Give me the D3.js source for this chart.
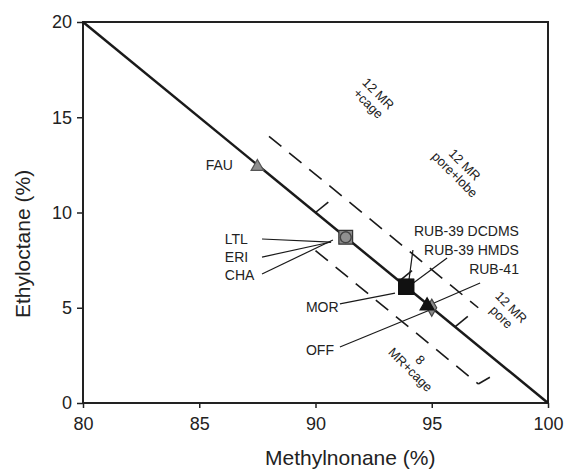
<!DOCTYPE html>
<html>
<head>
<meta charset="utf-8">
<script src="https://cdn.jsdelivr.net/npm/d3@7"></script>
<style>
  body { margin: 0; background: #fff; }
  svg text { font-family: "Liberation Sans", Arial, sans-serif; }
</style>
</head>
<body>
<div id="chart"></div>
<script>
// data
var names = ['FAU', 'LTL', 'ERI', 'CHA', 'MOR', 'RUB-39 DCDMS', 'RUB-39 HMDS', 'RUB-41', 'OFF'],
    methylnonane = [87.5, 91.3, 91.3, 91.3, 93.9, 93.9, 93.9, 94.8, 95.0],
    ethyloctane  = [12.4, 8.7, 8.7, 8.7, 6.1, 6.1, 6.1, 5.1, 5.0],
    xTicks = [80, 85, 90, 95, 100],
    yTicks = [0, 5, 10, 15, 20];

// marker styles (drawn in this order)
var markerStyle = {
  'OFF':          { shape: d3.symbolDiamond,  size: 85,  fill: '#8a8a8a', stroke: '#444' },
  'FAU':          { shape: d3.symbolTriangle, size: 68,  fill: '#8e8e8e', stroke: '#555' },
  'LTL':          { shape: d3.symbolSquare,   size: 190, fill: '#8a8a8a', stroke: '#333' },
  'ERI':          { shape: d3.symbolCircle,   size: 90,  fill: '#909090', stroke: '#444' },
  'CHA':          { shape: d3.symbolCircle,   size: 90,  fill: '#909090', stroke: '#444' },
  'MOR':          { shape: d3.symbolSquare,   size: 220, fill: '#111',    stroke: '#111' },
  'RUB-39 DCDMS': { shape: d3.symbolSquare,   size: 220, fill: '#111',    stroke: '#111' },
  'RUB-39 HMDS':  { shape: d3.symbolSquare,   size: 220, fill: '#111',    stroke: '#111' },
  'RUB-41':       { shape: d3.symbolTriangle, size: 85,  fill: '#111',    stroke: '#111' }
};
var drawOrder = ['OFF', 'FAU', 'LTL', 'ERI', 'CHA', 'MOR', 'RUB-39 DCDMS', 'RUB-39 HMDS', 'RUB-41'];

// label + leader layout, in data units
var labels = [
  { name: 'FAU',          at: [86.45, 12.5], anchor: 'end' },
  { name: 'LTL',          at: [86.1, 8.61],  anchor: 'start', from: [87.7, 8.61], to: [90.67, 8.45] },
  { name: 'ERI',          at: [86.1, 7.66],  anchor: 'start', from: [87.7, 7.66], to: [90.67, 8.45] },
  { name: 'CHA',          at: [86.1, 6.72],  anchor: 'start', from: [87.7, 6.77], to: [90.75, 8.56] },
  { name: 'MOR',          at: [89.59, 5.04], anchor: 'start', from: [91.05, 5.2], to: [93.42, 5.77] },
  { name: 'OFF',          at: [89.59, 2.8],  anchor: 'start', from: [91.05, 2.94], to: [94.92, 4.88] },
  { name: 'RUB-39 DCDMS', at: [98.75, 9.03], anchor: 'end', from: [94.19, 8.03], to: [94.02, 6.46] },
  { name: 'RUB-39 HMDS',  at: [98.75, 8.03], anchor: 'end', from: [95.66, 7.61], to: [94.15, 6.25] },
  { name: 'RUB-41',       at: [98.75, 7.03], anchor: 'end', from: [97.08, 6.3],  to: [94.8, 5.09] }
];

var zones = [
  { lines: ['12 MR', '+cage'],     at: [92.47, 15.96] },
  { lines: ['12 MR', 'pore+lobe'], at: [96.19, 12.23] },
  { lines: ['12 MR', 'pore'],      at: [98.19, 4.75] },
  { lines: ['8', 'MR+cage'],       at: [94.28, 1.99] }
];

var width = 564, height = 470;

var x = d3.scaleLinear().domain([80, 100]).range([83, 548]);
var y = d3.scaleLinear().domain([0, 20]).range([403, 22]);

var svg = d3.select('#chart').append('svg')
  .attr('width', width)
  .attr('height', height);

////////////////// axes //////////////////
var xAxis = svg.append('g')
  .attr('transform', 'translate(0,' + y(0) + ')')
  .call(d3.axisBottom(x).tickValues(xTicks).tickSize(5).tickPadding(9));
var yAxis = svg.append('g')
  .attr('transform', 'translate(' + x(80) + ',0)')
  .call(d3.axisLeft(y).tickValues(yTicks).tickSize(6).tickPadding(5));

[xAxis, yAxis].forEach(function(a) {
  a.select('.domain').remove();
  a.selectAll('line').attr('stroke', '#222').attr('stroke-width', 1.5);
  a.selectAll('text').attr('fill', '#222').style('font-size', '18px');
});

// frame
svg.append('rect')
  .attr('x', x(80)).attr('y', y(20))
  .attr('width', x(100) - x(80)).attr('height', y(0) - y(20))
  .attr('fill', 'none').attr('stroke', '#222').attr('stroke-width', 2);

svg.append('text')
  .attr('x', 265).attr('y', 465)
  .attr('fill', '#222')
  .style('font-size', '21px')
  .text('Methylnonane (%)');

svg.append('text')
  .attr('transform', 'translate(30,244) rotate(-90)')
  .attr('text-anchor', 'middle')
  .attr('fill', '#222')
  .style('font-size', '21px')
  .text('Ethyloctane (%)');

////////////////// lines //////////////////
var line = d3.line().x(function(d) { return x(d[0]); }).y(function(d) { return y(d[1]); });

svg.append('path')
  .attr('d', line([[80, 20], [100, 0]]))
  .attr('fill', 'none').attr('stroke', '#1a1a1a').attr('stroke-width', 2.5);

// dashed borders
svg.append('path')
  .attr('d', line([[88, 14], [97, 5]]))
  .attr('fill', 'none').attr('stroke', '#1a1a1a').attr('stroke-width', 1.6)
  .attr('stroke-dasharray', '16,10');
svg.append('path')
  .attr('d', line([[90, 8], [97, 1]]))
  .attr('fill', 'none').attr('stroke', '#1a1a1a').attr('stroke-width', 1.6)
  .attr('stroke-dasharray', '16,10');
svg.append('path')
  .attr('d', line([[97, 1], [97.5, 1.35]]))
  .attr('fill', 'none').attr('stroke', '#1a1a1a').attr('stroke-width', 1.6);

// small ticks off the diagonal
[[90, 10], [93.6, 6.4], [96, 4]].forEach(function(p) {
  svg.append('path')
    .attr('d', line([p, [p[0] + 0.55, p[1] + 0.55]]))
    .attr('fill', 'none').attr('stroke', '#1a1a1a').attr('stroke-width', 1.6);
});

////////////////// leaders //////////////////
svg.selectAll('path.leader')
  .data(labels.filter(function(d) { return d.from; }))
  .enter().append('path')
  .attr('class', 'leader')
  .attr('d', function(d) { return line([d.from, d.to]); })
  .attr('fill', 'none').attr('stroke', '#1a1a1a').attr('stroke-width', 1.2);

////////////////// markers //////////////////
svg.selectAll('path.marker')
  .data(drawOrder)
  .enter().append('path')
  .attr('class', 'marker')
  .attr('transform', function(n) {
    var i = names.indexOf(n);
    return 'translate(' + x(methylnonane[i]) + ',' + y(ethyloctane[i]) + ')';
  })
  .attr('d', function(n) { return d3.symbol().type(markerStyle[n].shape).size(markerStyle[n].size)(); })
  .attr('fill', function(n) { return markerStyle[n].fill; })
  .attr('stroke', function(n) { return markerStyle[n].stroke; })
  .attr('stroke-width', 1.2);

////////////////// labels //////////////////
svg.selectAll('text.lab')
  .data(labels)
  .enter().append('text')
  .attr('class', 'lab')
  .attr('x', function(d) { return x(d.at[0]); })
  .attr('y', function(d) { return y(d.at[1]); })
  .attr('dy', '0.35em')
  .attr('text-anchor', function(d) { return d.anchor; })
  .attr('fill', '#222')
  .style('font-size', '14px')
  .text(function(d) { return d.name; });

var zg = svg.selectAll('g.zone')
  .data(zones)
  .enter().append('g')
  .attr('class', 'zone')
  .attr('transform', function(d) { return 'translate(' + x(d.at[0]) + ',' + y(d.at[1]) + ') rotate(45)'; });

zg.selectAll('text')
  .data(function(d) { return d.lines; })
  .enter().append('text')
  .attr('text-anchor', 'middle')
  .attr('y', function(d, i) { return i === 0 ? -3 : 11; })
  .attr('fill', '#222')
  .style('font-size', '13px')
  .text(function(d) { return d; });
</script>
</body>
</html>
